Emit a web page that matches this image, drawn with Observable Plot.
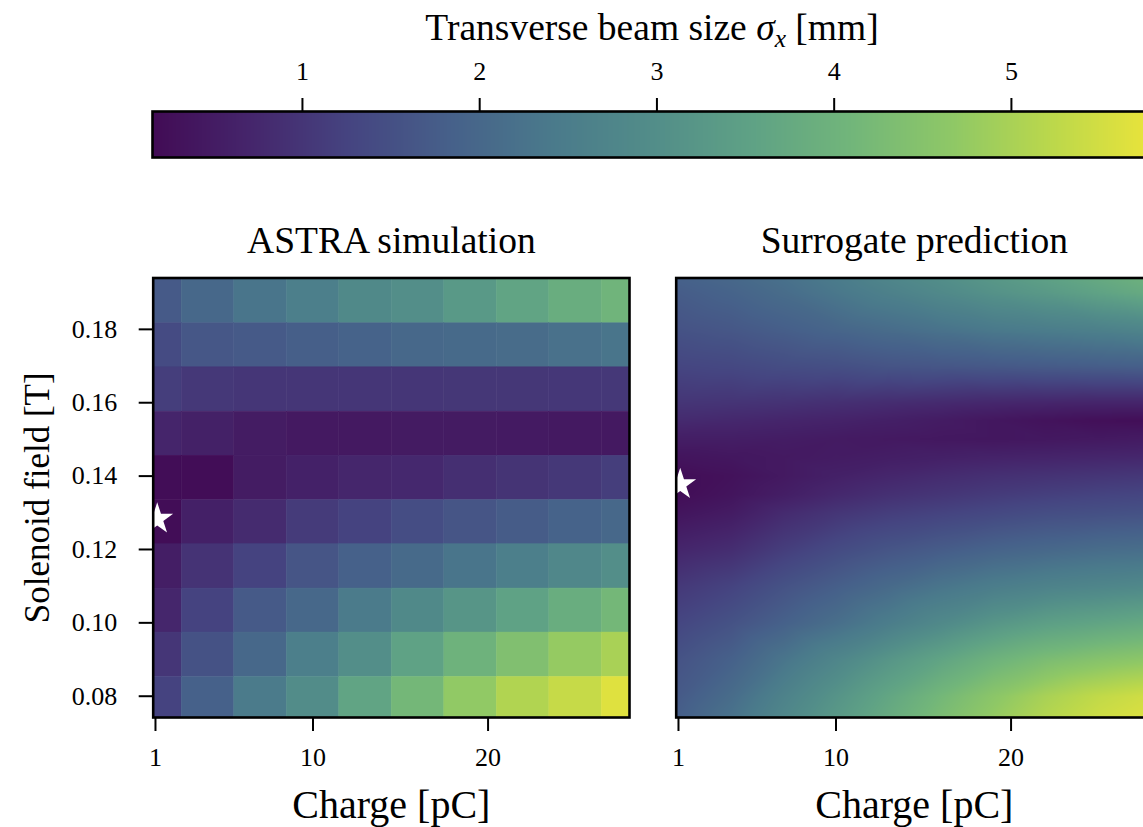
<!DOCTYPE html>
<html>
<head>
<meta charset="utf-8">
<script src="https://cdn.jsdelivr.net/npm/d3@7"></script>
<script src="https://cdn.jsdelivr.net/npm/@observablehq/plot@0.6"></script>
<style>
  html, body { margin: 0; padding: 0; background: #fff; overflow: hidden; }
  #fig { position: relative; width: 1143px; height: 827px; overflow: hidden; font-family: "Liberation Serif", "DejaVu Serif", serif; }
  #fig > svg, #fig > div { position: absolute; }
  #fig > svg { max-width: none !important; }
  #cbtitle { left: 152px; width: 1000px; top: 9px; text-align: center; font-size: 37.5px; line-height: 37px; color: #000; white-space: nowrap; }
  #cbtitle sub { font-size: 0.68em; vertical-align: -0.28em; line-height: 0; }
</style>
</head>
<body>
<div id="fig"><div id="cbtitle">Transverse beam size <i>σ<sub>x</sub></i> [mm]</div></div>
<script>
// ---------- data ----------
const charge = [1, 4, 7, 10, 13, 16, 19, 22, 25, 28];                 // pC (cell centres)
const solenoid = [0.1877, 0.1756, 0.1636, 0.1515, 0.1395, 0.1274, 0.1154, 0.1033, 0.0913, 0.0792]; // T, top -> bottom
const astraSigma = [                                                  // mm, rows follow solenoid
  [1.70, 2.00, 2.30, 2.55, 2.85, 3.00, 3.30, 3.60, 3.85, 4.05],
  [1.40, 1.65, 1.70, 1.80, 1.90, 2.00, 2.05, 2.10, 2.20, 2.30],
  [1.15, 1.05, 1.00, 1.00, 1.00, 1.00, 1.02, 1.02, 1.03, 1.05],
  [0.70, 0.60, 0.50, 0.45, 0.45, 0.48, 0.48, 0.46, 0.45, 0.45],
  [0.20, 0.20, 0.50, 0.62, 0.72, 0.76, 0.88, 0.97, 1.05, 1.15],
  [0.20, 0.58, 0.80, 1.10, 1.25, 1.45, 1.60, 1.75, 1.90, 2.00],
  [0.55, 0.95, 1.25, 1.60, 1.85, 2.05, 2.30, 2.55, 2.80, 3.00],
  [0.72, 1.25, 1.70, 2.00, 2.45, 2.85, 3.20, 3.55, 3.85, 4.15],
  [1.00, 1.55, 2.00, 2.55, 3.00, 3.55, 4.00, 4.40, 4.75, 5.00],
  [1.25, 1.85, 2.45, 2.95, 3.60, 4.15, 4.70, 5.10, 5.35, 5.65]
];

const surrCharge = [0.85, 4, 7, 10, 13, 16, 19, 22, 25, 28.1];
const surrSolenoid = [0.194, 0.19, 0.18, 0.17, 0.16, 0.155, 0.15, 0.145, 0.14, 0.135, 0.13, 0.12, 0.11, 0.10, 0.09, 0.08, 0.074];
const surrSigma = [
  [1.85, 2.00, 2.20, 2.45, 2.75, 3.00, 3.25, 3.50, 3.75, 4.00],
  [1.75, 1.90, 2.10, 2.35, 2.60, 2.85, 3.10, 3.30, 3.55, 3.80],
  [1.55, 1.65, 1.80, 1.95, 2.10, 2.25, 2.40, 2.50, 2.60, 2.75],
  [1.30, 1.35, 1.45, 1.50, 1.60, 1.65, 1.70, 1.75, 1.80, 1.85],
  [1.00, 0.98, 0.95, 0.90, 0.85, 0.80, 0.75, 0.72, 0.70, 0.70],
  [0.80, 0.75, 0.70, 0.65, 0.58, 0.50, 0.40, 0.32, 0.25, 0.22],
  [0.55, 0.55, 0.52, 0.48, 0.45, 0.42, 0.40, 0.42, 0.45, 0.50],
  [0.35, 0.40, 0.45, 0.50, 0.55, 0.60, 0.65, 0.68, 0.72, 0.75],
  [0.20, 0.30, 0.45, 0.60, 0.72, 0.82, 0.90, 0.95, 1.00, 1.05],
  [0.20, 0.35, 0.55, 0.75, 0.90, 1.00, 1.10, 1.18, 1.25, 1.30],
  [0.35, 0.50, 0.80, 1.00, 1.15, 1.25, 1.35, 1.45, 1.50, 1.55],
  [0.70, 0.85, 1.15, 1.40, 1.60, 1.75, 1.90, 2.00, 2.10, 2.15],
  [1.05, 1.25, 1.55, 1.80, 2.05, 2.30, 2.50, 2.65, 2.75, 2.85],
  [1.30, 1.55, 1.85, 2.15, 2.50, 2.85, 3.20, 3.45, 3.60, 3.75],
  [1.55, 1.85, 2.30, 2.75, 3.20, 3.60, 4.00, 4.30, 4.50, 4.65],
  [1.70, 2.10, 2.65, 3.15, 3.65, 4.15, 4.60, 5.00, 5.30, 5.50],
  [1.80, 2.25, 2.80, 3.30, 3.80, 4.30, 4.75, 5.15, 5.45, 5.65]
];

const astraStar = [{q: 1.1, s: 0.1283}];
const surrStar = [{q: 1.1, s: 0.1377}];

const xTicks = [1, 10, 20];
const yTicks = [0.08, 0.10, 0.12, 0.14, 0.16, 0.18];
const cbTicks = [1, 2, 3, 4, 5];
const xDomain = [0.87, 28.08];
const yDomain = [0.0742, 0.1940];
const cbDomain = [0.154, 5.796];
const colorStops = ["#420b55", "#45266c", "#454581", "#46618a", "#4a7a8b", "#528d89",
                    "#5fa285", "#72b67a", "#8fc866", "#bcd84b", "#ebe43a"];

// ---------- tables ----------
const astraCells = solenoid.flatMap((s, i) => charge.map((q, j) => ({q, s, v: astraSigma[i][j]})));
const surrCells = surrSolenoid.flatMap((s, i) => surrCharge.map((q, j) => ({q, s, v: surrSigma[i][j]})));
const dq = charge[1] - charge[0];
const ds = Math.abs(solenoid[0] - solenoid[1]);

const colorOpts = {type: "linear", domain: [0.15, 5.8], interpolate: d3.piecewise(d3.interpolateRgb, colorStops)};
const font = {fontFamily: "Liberation Serif, DejaVu Serif, serif", fontSize: "26px", background: "transparent", color: "black", overflow: "visible", maxWidth: "none"};

function panel(title, dataMarks, showY) {
  const marks = [
    ...dataMarks,
    Plot.frame({stroke: "black", strokeWidth: 2.6}),
    Plot.axisX(xTicks, {tickSize: 14, tickPadding: 16, fontSize: 26, strokeWidth: 2, label: null, tickFormat: d => String(d)}),
    Plot.text([title], {frameAnchor: "top", dy: -37, fontSize: 37.5, lineAnchor: "middle", textAnchor: "middle"}),
    Plot.text(["Charge [pC]"], {frameAnchor: "bottom", dy: 88, fontSize: 40, lineAnchor: "middle", textAnchor: "middle"})
  ];
  if (showY) {
    marks.push(Plot.axisY(yTicks, {tickSize: 14, tickPadding: 22, fontSize: 26, strokeWidth: 2, label: null, tickFormat: d3.format(".2f")}));
    marks.push(Plot.text(["Solenoid field [T]"], {frameAnchor: "left", dx: -115, rotate: -90, fontSize: 35, lineAnchor: "middle", textAnchor: "middle"}));
  }
  return Plot.plot({
    width: 639, height: 627,
    marginLeft: 152.7, marginRight: 10, marginTop: 77.5, marginBottom: 110,
    x: {domain: xDomain, label: null},
    y: {domain: yDomain, label: null, axis: showY ? undefined : null},
    color: colorOpts,
    style: font,
    marks
  });
}

const fig = document.getElementById("fig");

// colorbar
const cb = Plot.plot({
  width: 1200, height: 170,
  marginLeft: 152, marginRight: 48, marginTop: 111, marginBottom: 13,
  x: {domain: cbDomain, label: null},
  y: {domain: [0, 1], axis: null},
  color: colorOpts,
  style: font,
  marks: [
    Plot.raster({fill: (x, y) => x, x1: cbDomain[0], x2: cbDomain[1], y1: 0, y2: 1, pixelSize: 1}),
    Plot.frame({stroke: "black", strokeWidth: 2.6}),
    Plot.axisX(cbTicks, {anchor: "top", tickSize: 14, tickPadding: 18, fontSize: 26, strokeWidth: 2, label: null, tickFormat: d => String(d)})
  ]
});
cb.style.left = "0px"; cb.style.top = "0px"; cb.style.maxWidth = "none"; cb.style.width = "1200px"; cb.style.height = "170px";
fig.appendChild(cb);

const left = panel("ASTRA simulation", [
  Plot.rect(astraCells, {x1: d => d.q - dq / 2, x2: d => d.q + dq / 2, y1: d => d.s - ds / 2, y2: d => d.s + ds / 2,
                         fill: "v", stroke: "v", strokeWidth: 0.5, clip: true}),
  Plot.dot(astraStar, {x: "q", y: "s", symbol: "star", fill: "white", r: 10, clip: true})
], true);
left.style.left = "0px"; left.style.top = "200px";
fig.appendChild(left);

const right = panel("Surrogate prediction", [
  Plot.raster(surrCells, {x: "q", y: "s", fill: "v", interpolate: "barycentric", pixelSize: 1}),
  Plot.dot(surrStar, {x: "q", y: "s", symbol: "star", fill: "white", r: 10, clip: true})
], false);
right.style.left = "523px"; right.style.top = "200px"; right.style.maxWidth = "none"; right.style.width = "639px"; right.style.height = "627px";
fig.appendChild(right);
</script>
</body>
</html>
